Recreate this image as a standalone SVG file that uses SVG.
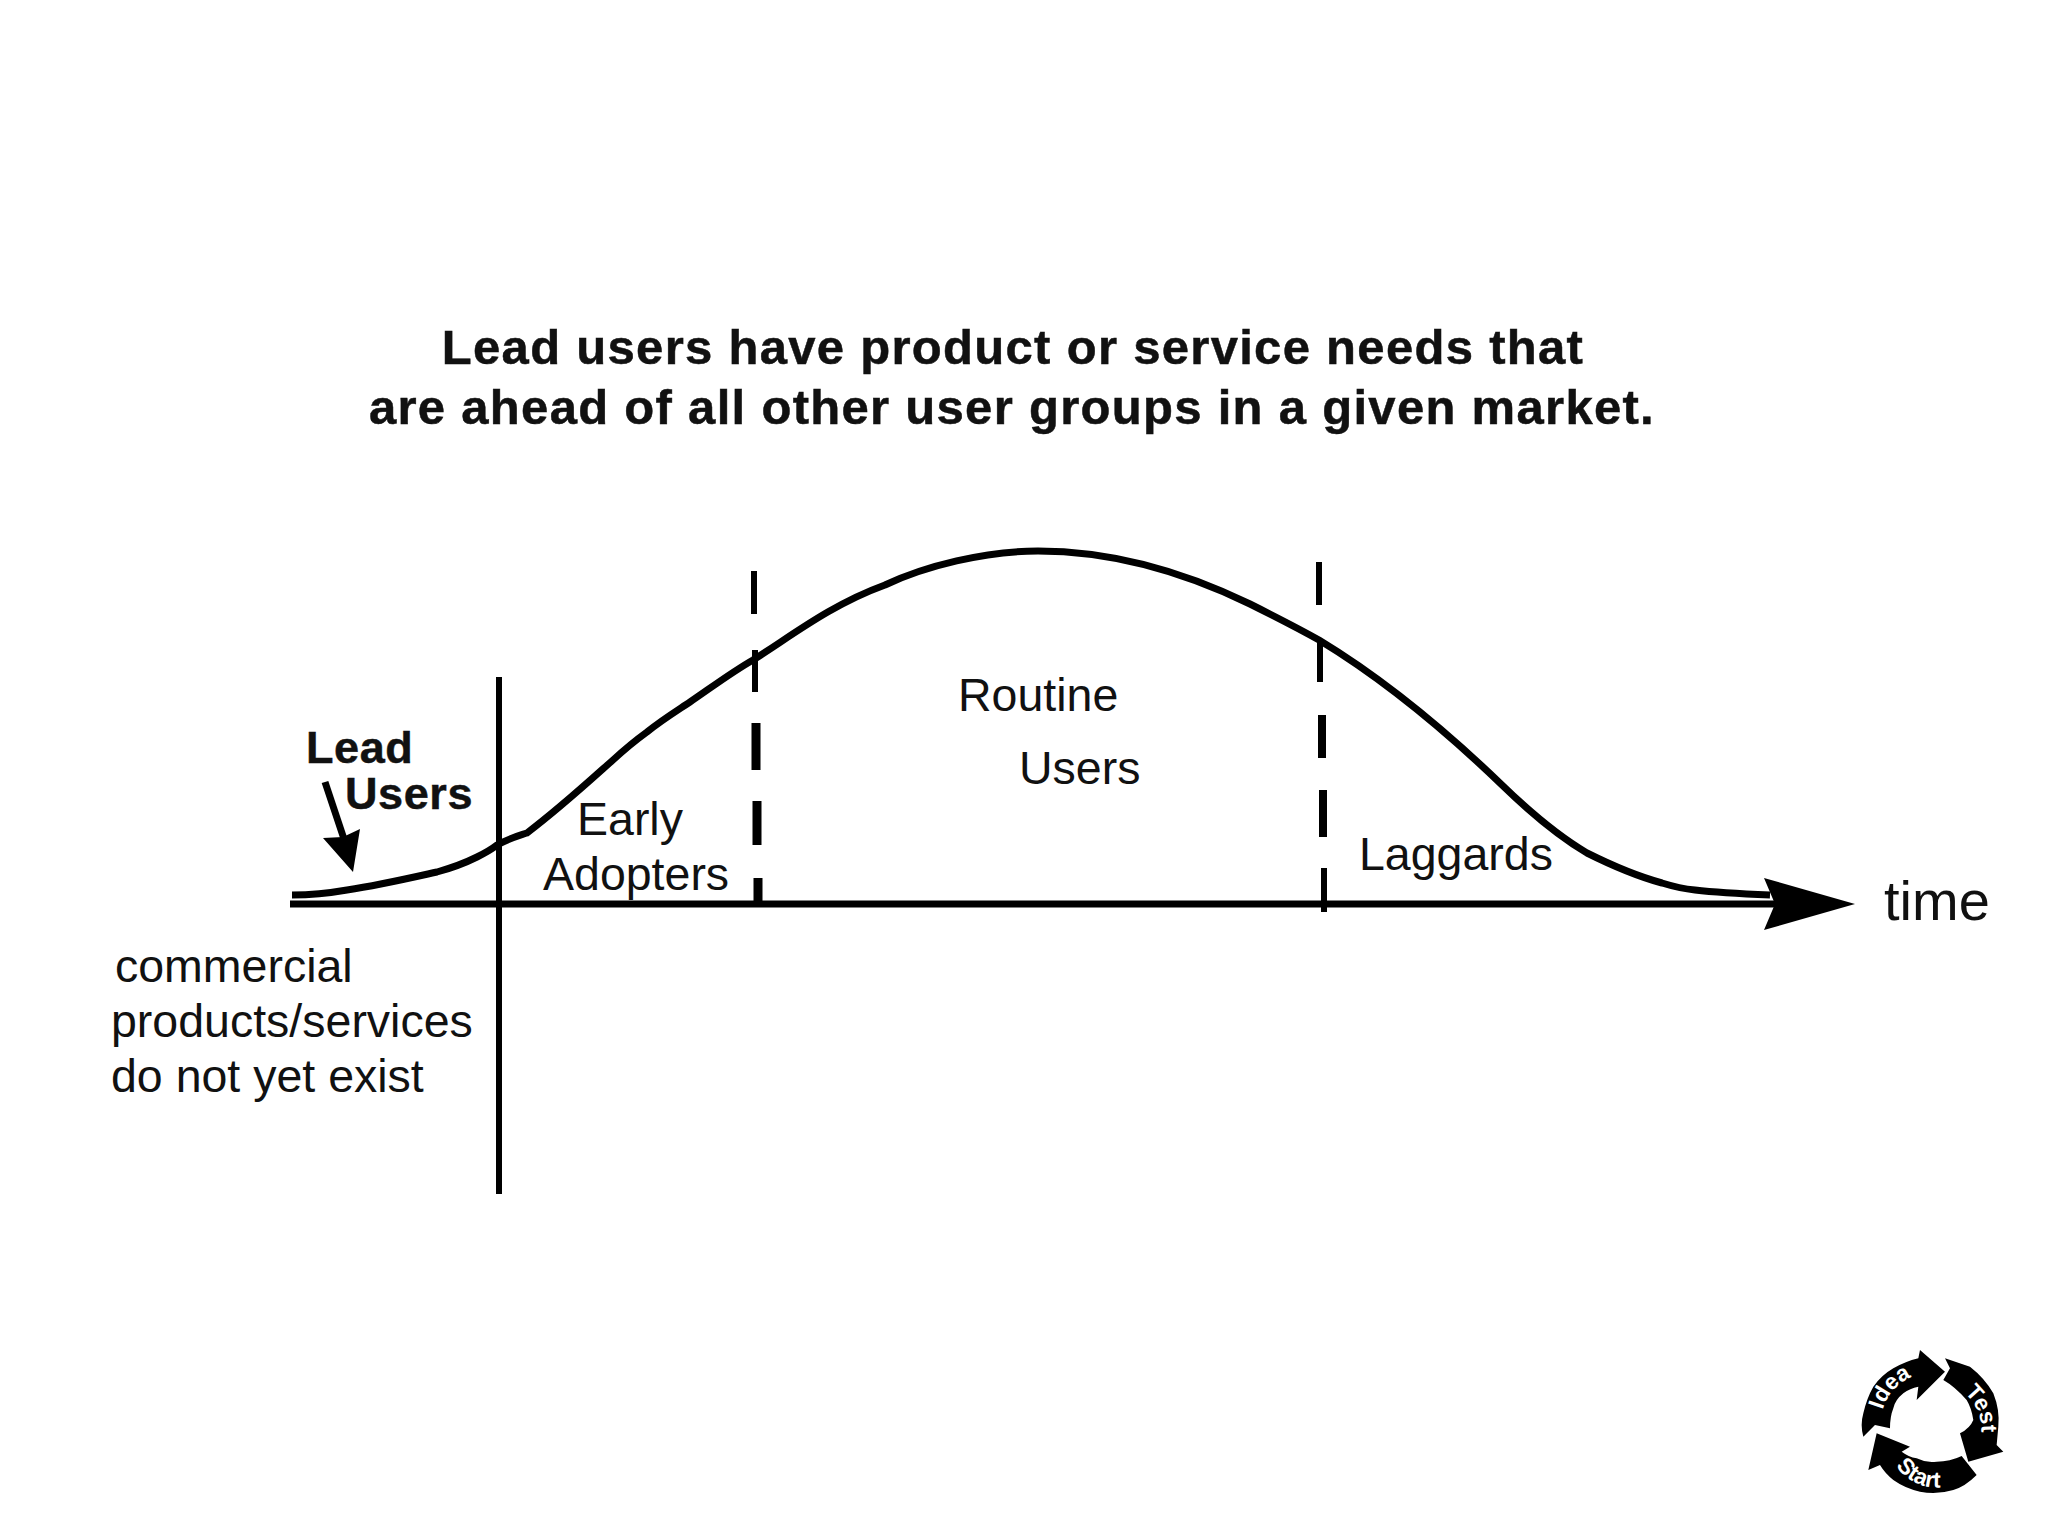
<svg xmlns="http://www.w3.org/2000/svg" width="2048" height="1536" viewBox="0 0 2048 1536">
<style>
text{font-family:"Liberation Sans",Arial,sans-serif;fill:#111}
.t{font-size:49px;font-weight:700;text-anchor:middle;letter-spacing:1.3px;stroke:#111;stroke-width:.5px}
.l{font-size:46.5px}
.b{font-size:45px;font-weight:700;letter-spacing:.6px;stroke:#111;stroke-width:.5px}
.ln{fill:none;stroke:#000}
.lg{font-size:68px;font-weight:700;fill:#fff;font-family:"Liberation Sans",Arial,sans-serif}
</style>
<defs>
<path id="pIdea" d="M158 240 A150 150 0 0 1 300 130"/>
<path id="pTest" d="M403 188 A150 150 0 0 1 448 345"/>
<path id="pStart" d="M198 408 A150 150 0 0 0 370 465"/>
</defs>
<rect width="2048" height="1536" fill="#fff"/>
<g id="title">
<text class="t" x="1013" y="364">Lead users have product or service needs that</text>
<text class="t" x="1012" y="424">are ahead of all other user groups in a given market.</text>
</g>
<g id="connectors">
<path id="axis" class="ln" stroke-width="7" d="M290 904H1780"/>
<path id="axis-head" d="M1855 904L1764 878L1775 904L1764 930Z"/>
<path id="curve" class="ln" stroke-width="7" d="M292 895C310 895 330 893 347 890C380 885 410 878 437 872C455 867 465 863 477 857C487 852 492 849 497 845C510 838 518 836 527 833C560 808 585 785 613 760C625 749 636 740 647 732C662 720 675 712 690 702C712 687 732 672 753 660C790 637 830 605 885 585C925 566 985 551 1038 551C1110 551 1180 570 1250 604C1272 615 1296 627 1319 640C1385 680 1445 730 1502 785C1535 817 1560 837 1587 853C1615 867 1640 877 1662 883C1675 887 1685 889 1695 890C1720 893 1745 894 1770 895"/>
<path id="divider" class="ln" stroke-width="6" d="M499 677V1194"/>
<path id="dash-1-top" class="ln" stroke-width="6" d="M754 571V614M755 650V692"/>
<path id="dash-1-low" class="ln" stroke-width="9" d="M756 723V770M757 801V845M758 878V904"/>
<path id="dash-2-top" class="ln" stroke-width="6" d="M1319 562V605M1320 640V682"/>
<path id="dash-2-low" class="ln" stroke-width="8" d="M1322 715V758M1323 790V837"/>
<path id="dash-2-end" class="ln" stroke-width="6" d="M1324 868V912"/>
<path id="lead-arrow-shaft" class="ln" stroke-width="7" d="M325 782L345 842"/>
<path id="lead-arrow-head" d="M353 872L323 838L343 837L360 829Z"/>
</g>
<g id="lead-users">
<text class="b" x="306" y="763">Lead</text>
<text class="b" x="345" y="809">Users</text>
</g>
<g id="early-adopters">
<text class="l" x="577" y="835">Early</text>
<text class="l" x="543" y="890">Adopters</text>
</g>
<g id="routine-users">
<text class="l" x="958" y="711">Routine</text>
<text class="l" x="1019" y="784">Users</text>
</g>
<g id="laggards"><text class="l" x="1359" y="870">Laggards</text></g>
<g id="time"><text x="1884" y="920" font-size="56">time</text></g>
<g id="no-products">
<text class="l" x="115" y="982">commercial</text>
<text class="l" x="111" y="1037">products/services</text>
<text class="l" x="111" y="1092">do not yet exist</text>
</g>
<g id="logo" transform="translate(1830 1330) scale(.3333)">
<path d="M135 285L100 320Q90 285 100 250Q110 205 130 170Q155 135 190 115Q225 95 265 85L270 60L345 125L260 210L265 170Q240 175 220 190Q195 210 190 235Q180 260 180 295Z"/>
<path d="M345 85L420 110Q465 145 490 190Q510 240 505 290L500 345L520 365L415 395L390 310Q420 295 430 270Q425 235 410 210Q375 170 340 150L360 115Z"/>
<path d="M395 378L440 435Q405 470 370 480Q320 495 270 485Q225 475 190 450Q165 430 150 405L115 420L140 310L240 350L215 365Q235 380 260 385Q290 400 320 395Q360 395 395 378Z"/>
<text class="lg"><textPath href="#pIdea">Idea</textPath></text>
<text class="lg"><textPath href="#pTest">Test</textPath></text>
<text class="lg"><textPath href="#pStart">Start</textPath></text>
</g>
</svg>
